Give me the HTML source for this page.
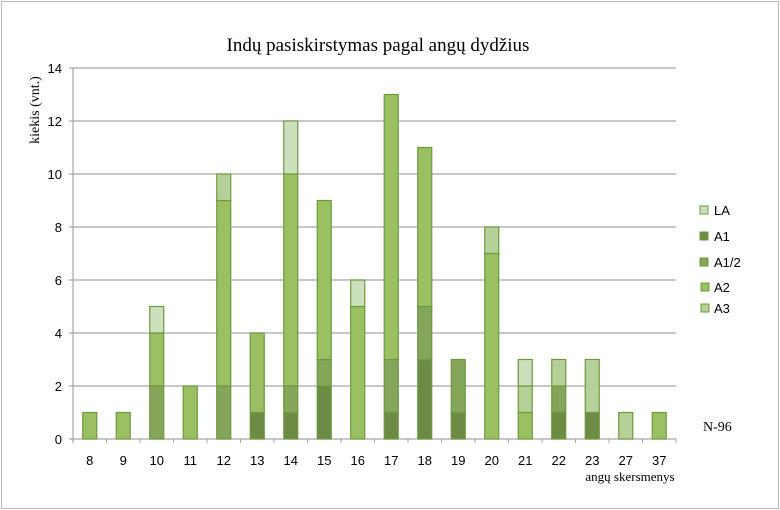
<!DOCTYPE html>
<html><head><meta charset="utf-8"><style>body{margin:0;background:#fff}svg{display:block}</style></head>
<body>
<svg width="780" height="510" xmlns="http://www.w3.org/2000/svg">
<rect x="1.5" y="1.5" width="777" height="507" fill="#fff" stroke="#bbb"/>
<text x="378" y="51" text-anchor="middle" font-family="Liberation Serif, serif" font-size="19">Indų pasiskirstymas pagal angų dydžius</text>
<text transform="translate(39,110) rotate(-90)" text-anchor="middle" font-family="Liberation Serif, serif" font-size="14">kiekis (vnt.)</text>
<g stroke="#a6a6a6" stroke-width="1.2">
<line x1="69" y1="439" x2="676" y2="439"/><line x1="73" y1="68" x2="676" y2="68"/>
<line x1="73" y1="121" x2="676" y2="121"/><line x1="73" y1="174" x2="676" y2="174"/>
<line x1="73" y1="227" x2="676" y2="227"/><line x1="73" y1="280" x2="676" y2="280"/>
<line x1="73" y1="333" x2="676" y2="333"/><line x1="73" y1="386" x2="676" y2="386"/>
<line x1="73" y1="68" x2="73" y2="443"/>
<line x1="69" y1="68" x2="73" y2="68"/><line x1="69" y1="121" x2="73" y2="121"/><line x1="69" y1="174" x2="73" y2="174"/><line x1="69" y1="227" x2="73" y2="227"/><line x1="69" y1="280" x2="73" y2="280"/><line x1="69" y1="333" x2="73" y2="333"/><line x1="69" y1="386" x2="73" y2="386"/>
</g>
<g id="ticks" stroke="#a6a6a6"></g>
<g font-family="Liberation Sans, sans-serif" font-size="13" text-anchor="end">
<text x="62" y="73">14</text><text x="62" y="126">12</text><text x="62" y="179">10</text><text x="62" y="232">8</text><text x="62" y="285">6</text><text x="62" y="338">4</text><text x="62" y="391">2</text><text x="62" y="444">0</text>
</g>
<g id="bars" stroke="#6b9a3c" stroke-width="1.2"></g>
<g id="xl" font-family="Liberation Sans, sans-serif" font-size="13" text-anchor="middle"></g>
<text x="630" y="481" text-anchor="middle" font-family="Liberation Serif, serif" font-size="13">angų skersmenys</text>
<text x="703" y="431" font-family="Liberation Serif, serif" font-size="14">N-96</text>
<g font-family="Liberation Sans, sans-serif" font-size="13" stroke-width="1" stroke="#6b9a3c">
<rect x="700" y="206" width="8" height="8" fill="#cde0be"/><text x="714" y="215" stroke="none">LA</text>
<rect x="700" y="232" width="8" height="8" fill="#6e8b45"/><text x="714" y="241" stroke="none">A1</text>
<rect x="700" y="258" width="8" height="8" fill="#84a55a"/><text x="714" y="267" stroke="none">A1/2</text>
<rect x="701" y="283" width="8" height="8" fill="#9bc064"/><text x="714" y="292" stroke="none">A2</text>
<rect x="701" y="304" width="8" height="8" fill="#b5d099"/><text x="714" y="313" stroke="none">A3</text>
</g>
</svg>
<script>
var cols=["#6e8b45","#84a55a","#9bc064","#b5d099","#cde0be"];
var d=[["8",0,0,1,0,0],["9",0,0,1,0,0],["10",0,2,2,0,1],["11",0,0,2,0,0],["12",0,2,7,1,0],["13",1,0,3,0,0],["14",1,1,8,0,2],["15",2,1,6,0,0],["16",0,0,5,0,1],["17",1,2,10,0,0],["18",3,2,6,0,0],["19",1,2,0,0,0],["20",0,0,7,1,0],["21",0,0,1,1,1],["22",1,1,0,1,0],["23",1,0,0,2,0],["27",0,0,0,1,0],["37",0,0,1,0,0]];
var ns="http://www.w3.org/2000/svg",b=document.getElementById("bars"),xl=document.getElementById("xl"),tk=document.getElementById("ticks");
var w=603/18,u=26.5;
for(var i=0;i<=18;i++){var l=document.createElementNS(ns,"line");var x=73+i*w;l.setAttribute("x1",x);l.setAttribute("x2",x);l.setAttribute("y1",439);l.setAttribute("y2",443);tk.appendChild(l);}
d.forEach(function(r,i){var cx=73+(i+0.5)*w,y=439;
for(var k=0;k<5;k++){if(!r[k+1])continue;var h=r[k+1]*u;var e=document.createElementNS(ns,"rect");e.setAttribute("x",cx-7);e.setAttribute("y",y-h);e.setAttribute("width",14);e.setAttribute("height",h);e.setAttribute("fill",cols[k]);b.appendChild(e);y-=h;}
var t=document.createElementNS(ns,"text");t.setAttribute("x",cx);t.setAttribute("y",465);t.textContent=r[0];xl.appendChild(t);});
</script>
</body></html>
